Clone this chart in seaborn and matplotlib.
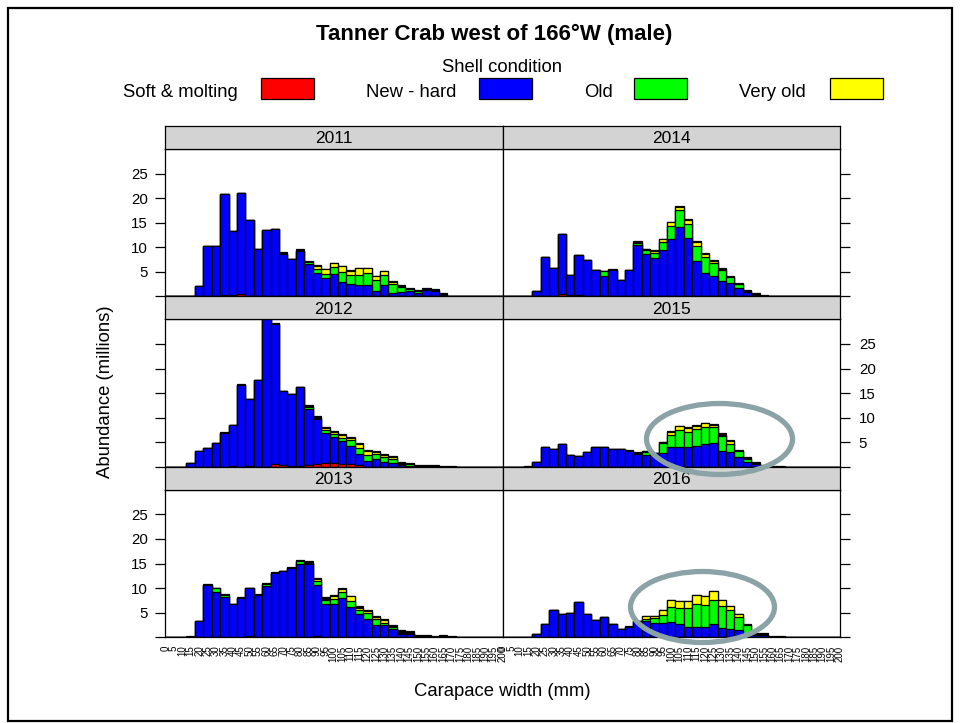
import numpy as np
import pandas as pd
import matplotlib
matplotlib.use("Agg")
import matplotlib.pyplot as plt
import seaborn as sns
from matplotlib.patches import Ellipse, Rectangle

# ---------------- data ----------------
widths = [str(v) for v in range(0, 205, 5)]          # 41 carapace-width bins
shell_labels = ["Soft & molting", "New - hard", "Old", "Very old"]
shell_colors = ["#FF0000", "#0000FF", "#00FF00", "#FFFF00"]
other_color = "#000000"

def pad(vals):
    return list(vals) + [0] * (len(widths) - len(vals))

soft_2011 = pad([0]*7 + [0.2, 0.2, 0.4])
new_2011 = pad([0, 0, 0, 0, 2.2, 10.2, 10.2, 20.6, 13.1, 20.6, 15.5, 9.7, 13.6, 13.8, 8.7, 7.6, 9.2, 6.6, 4.8,
                3.8, 4.5, 3.0, 2.5, 2.3, 2.3, 1.2, 2.3, 0.6, 0.8, 1.0, 0.7, 1.4, 1.0, 0.3])
old_2011 = pad([0]*17 + [0.3, 0.7, 0.8, 1.5, 1.9, 1.8, 2.1, 2.4, 2.2, 2.1, 1.9, 1.2, 0.5, 0.3])
vold_2011 = pad([0]*18 + [0.7, 0.9, 0.7, 1.2, 0.9, 1.4, 1.1, 0.8, 0.7, 0.5])
other_2011 = pad([0, 0, 0, 0.1, 0, 0, 0, 0, 0, 0, 0, 0, 0, 0, 0.3, 0, 0.5, 0.4, 0.2, 0, 0.1, 0, 0.1, 0, 0, 0, 0,
                  0.1, 0.3, 0.2, 0.3, 0.4, 0.5, 0.4, 0.1, 0.1])

soft_2014 = pad([0]*7 + [0.4, 0.2, 0.3])
new_2014 = pad([0, 0, 0, 0, 1.2, 8.1, 5.8, 12.4, 4.2, 8.2, 7.5, 5.4, 4.2, 5.3, 3.3, 5.3, 10.5, 8.7, 7.9, 9.4,
                11.6, 14.2, 11.8, 7.3, 4.7, 4.2, 3.2, 2.7, 1.8, 0.9, 0.3])
old_2014 = pad([0]*12 + [1.0, 0, 0, 0, 0.3, 0.7, 0.9, 1.7, 2.7, 3.4, 2.9, 3.0, 3.4, 2.5, 2.1, 1.2, 0.8, 0.2])
vold_2014 = pad([0]*17 + [0.2, 0.4, 0.5, 0.8, 0.6, 0.8, 0.7, 0.6, 0.6, 0.2])
other_2014 = pad([0]*13 + [0.2, 0, 0.1, 0.5, 0.1, 0.2, 0, 0.1, 0.1, 0.2, 0.2, 0.2, 0.1, 0.3, 0.3, 0.1, 0.3, 0.4,
                           0.3, 0.1, 0.1])

soft_2012 = pad([0]*8 + [0.2, 0, 0.2, 0, 0, 0.6, 0.4, 0.2, 0.2, 0.4, 0.6, 0.8, 0.7, 0.6, 0.6, 0.3])
new_2012 = pad([0, 0, 0, 0.75, 3.3, 3.9, 4.8, 6.9, 8.3, 16.7, 13.5, 17.6, 31.0, 28.4, 15.0, 14.6, 16.1, 11.4,
                9.1, 6.0, 5.3, 4.6, 3.7, 2.4, 1.2, 1.6, 1.0, 0.8, 0.3, 0.2])
old_2012 = pad([0]*17 + [0.3, 0.3, 0.6, 0.6, 0.7, 1.1, 1.2, 1.3, 1.0, 1.0, 0.7, 0.3, 0.3])
vold_2012 = pad([0]*19 + [0.4, 0.5, 0.5, 0.4, 0.7, 0.7, 0.5, 0.5, 0.5])
other_2012 = pad([0]*7 + [0.2, 0, 0.2, 0, 0, 0, 0.3, 0, 0, 0, 0.5, 0.3, 0.2, 0.2, 0.2, 0.2, 0.2, 0.3, 0.2, 0.1,
                          0.2, 0.3, 0.2, 0.3, 0.3, 0.3, 0.1, 0.1])

soft_2015 = pad([])
new_2015 = pad([0, 0, 0, 0, 0.9, 4.1, 3.6, 4.6, 2.4, 2.2, 3.0, 4.1, 4.1, 3.6, 3.6, 3.3, 2.7, 2.5, 2.9, 2.9, 4.0,
                4.0, 4.0, 4.2, 4.6, 4.8, 3.3, 3.1, 2.0, 1.0, 0.5, 0.1])
old_2015 = pad([0]*17 + [0.5, 0, 1.9, 2.4, 3.4, 3.0, 3.5, 3.5, 3.3, 2.9, 1.6, 1.2, 0.6])
vold_2015 = pad([0]*17 + [0.2, 0, 0.3, 0.7, 1.0, 0.9, 0.7, 0.8, 0.5, 0.2, 0.5])
other_2015 = pad([0, 0, 0, 0.1] + [0]*11 + [0.2, 0.4, 0.1, 0, 0, 0.2, 0, 0.1, 0.1, 0.1, 0.1, 0.4, 0.3, 0.2, 0.3,
                                            0.5, 0.2, 0.1, 0.1])

soft_2013 = pad([0]*10 + [0.2] + [0]*7 + [0.2])
new_2013 = pad([0, 0, 0, 0, 3.3, 10.6, 9.2, 8.2, 6.7, 8.0, 9.8, 8.6, 10.5, 13.1, 13.5, 14.1, 15.0, 14.8, 10.5,
                6.8, 6.7, 8.0, 6.2, 4.7, 3.8, 2.5, 2.4, 1.6, 0.7, 0.6, 0, 0.2, 0, 0.3])
old_2013 = pad([0]*6 + [0.8, 0.4, 0, 0, 0, 0, 0.3, 0, 0, 0, 0.5, 0.4, 0.7, 0.7, 1.1, 1.3, 1.1, 0.9, 1.1, 1.2,
                        0.5, 0.5, 0.2, 0.3])
vold_2013 = pad([0]*18 + [0.4, 0.3, 0.5, 0.6, 1.0, 0.4, 0.5, 0.5, 0.5, 0, 0.2])
other_2013 = pad([0, 0, 0.1, 0.3, 0, 0.2, 0.1, 0.2, 0, 0.2, 0, 0.2, 0.2, 0.2, 0, 0.2, 0.3, 0.3, 0.2, 0.3, 0.2,
                  0.2, 0.1, 0.3, 0.2, 0.1, 0.3, 0.3, 0.3, 0.3, 0.5, 0.2, 0.2, 0.2, 0.2, 0.1])

soft_2016 = pad([])
new_2016 = pad([0, 0, 0, 0, 0.6, 2.7, 5.6, 4.7, 4.9, 7.1, 4.7, 3.5, 4.1, 2.6, 1.6, 2.0, 3.3, 3.2, 2.9, 2.9, 3.1,
                2.7, 2.1, 2.1, 2.0, 2.7, 1.9, 1.6, 1.4, 0.7, 0.5, 0.5])
old_2016 = pad([0]*17 + [0.6, 1.0, 1.7, 3.0, 3.3, 3.8, 4.7, 4.6, 4.8, 4.5, 4.0, 2.8, 1.8, 0.2])
vold_2016 = pad([0]*17 + [0.5, 0.5, 1.0, 1.4, 1.4, 1.4, 1.7, 1.7, 2.0, 1.1, 0.7, 0.6])
other_2016 = pad([0, 0, 0.1, 0.1] + [0]*11 + [0.3, 0, 0.1] + [0]*8 + [0.1, 0, 0, 0.2, 0.1, 0.3, 0.3, 0.2, 0, 0.1])

years = {
    2011: (soft_2011, new_2011, old_2011, vold_2011, other_2011),
    2012: (soft_2012, new_2012, old_2012, vold_2012, other_2012),
    2013: (soft_2013, new_2013, old_2013, vold_2013, other_2013),
    2014: (soft_2014, new_2014, old_2014, vold_2014, other_2014),
    2015: (soft_2015, new_2015, old_2015, vold_2015, other_2015),
    2016: (soft_2016, new_2016, old_2016, vold_2016, other_2016),
}
# (year, row, col)
layout = [(2011, 0, 0), (2014, 0, 1), (2012, 1, 0), (2015, 1, 1), (2013, 2, 0), (2016, 2, 1)]

# ---------------- figure ----------------
sns.set_theme(style="white")
plt.rcParams["font.family"] = ["Liberation Sans", "DejaVu Sans"]
plt.rcParams["text.color"] = "black"
plt.rcParams["axes.labelcolor"] = "black"
plt.rcParams["xtick.color"] = "black"
plt.rcParams["ytick.color"] = "black"
plt.rcParams["xtick.labelcolor"] = "black"
plt.rcParams["ytick.labelcolor"] = "black"

W, H = 960, 723
fig = plt.figure(figsize=(W / 100, H / 100), dpi=100)
fig.patch.set_facecolor("white")


def box(x0, y0, x1, y1):
    return [x0 / W, 1 - y1 / H, (x1 - x0) / W, (y1 - y0) / H]


col_x = [(165, 502.5), (502.5, 840)]
row_top = 126.0
row_h = 170.4
strip_h = 23.0

for year, r, c in layout:
    xl, xr = col_x[c]
    stop = row_top + r * row_h
    ptop = stop + strip_h
    pbot = stop + row_h
    ax = fig.add_axes(box(xl, ptop, xr, pbot))
    soft, new, old, vold, other = [np.array(v, dtype=float) for v in years[year]]
    cum = [soft, soft + new, soft + new + old, soft + new + old + vold, soft + new + old + vold + other]
    df = pd.DataFrame({"width": widths, "c1": cum[0], "c2": cum[1], "c3": cum[2], "c4": cum[3], "c5": cum[4]})
    layers = [("c5", other_color), ("c4", shell_colors[3]), ("c3", shell_colors[2]),
              ("c2", shell_colors[1]), ("c1", shell_colors[0])]
    for col, color in layers:
        sns.barplot(data=df, x="width", y=col, order=widths, color=color, saturation=1,
                    width=1.0, edgecolor="black", linewidth=0.9, errorbar=None, ax=ax)
    ax.set_xlim(-0.05, 40.05)
    ax.set_ylim(0, 30)
    ax.set_xlabel("")
    ax.set_ylabel("")
    ax.set_facecolor("white")
    for s in ax.spines.values():
        s.set_visible(True)
        s.set_color("black")
        s.set_linewidth(0.9)
    ax.set_yticks([0, 5, 10, 15, 20, 25])
    ax.set_yticklabels(["", "5", "10", "15", "20", "25"])
    if c == 0:
        ax.tick_params(axis="y", left=True, right=False, labelleft=(r != 1), labelright=False,
                       direction="out", length=7.5, width=0.9, color="black", labelsize=10.8, pad=5)
    else:
        ax.tick_params(axis="y", left=False, right=True, labelleft=False, labelright=(r == 1),
                       direction="out", length=7.5, width=0.9, color="black", labelsize=10.8, pad=6)
    ax.set_xticks(range(len(widths)))
    if r == 2:
        ax.set_xticklabels(widths, rotation=90)
        ax.tick_params(axis="x", bottom=True, length=0, labelsize=7, pad=6, labelbottom=True)
    else:
        ax.tick_params(axis="x", bottom=False, labelbottom=False, length=0)

    sax = fig.add_axes(box(xl, stop, xr, ptop))
    sax.set_facecolor("#D3D3D3")
    sax.set_xticks([])
    sax.set_yticks([])
    for s in sax.spines.values():
        s.set_visible(True)
        s.set_color("black")
        s.set_linewidth(0.9)
    sax.text(0.5, 0.45, str(year), ha="center", va="center", fontsize=12.5, color="black",
             transform=sax.transAxes)

# ---------------- overlay: titles, legend, annotations ----------------
ov = fig.add_axes([0, 0, 1, 1])
ov.set_xlim(0, W)
ov.set_ylim(H, 0)
ov.axis("off")
ov.patch.set_alpha(0)

ov.add_patch(Rectangle((8, 8), 944, 713, fill=False, ec="black", lw=1.6))
ov.text(494.5, 40, "Tanner Crab west of 166°W (male)", ha="center", va="baseline",
        fontsize=16, fontweight="bold", color="black")
ov.text(502.5, 71.5, "Shell condition", ha="center", va="baseline", fontsize=13.3, color="black")

legend_text_x = [123, 366, 584, 739]
legend_box_x = [261, 479, 634, 830]
for lab, col, tx, bx in zip(shell_labels, shell_colors, legend_text_x, legend_box_x):
    ov.text(tx, 97, lab, ha="left", va="baseline", fontsize=13.3, color="black")
    ov.add_patch(Rectangle((bx, 78), 53, 20.5, fc=col, ec="black", lw=0.9))

ov.text(105, 392, "Abundance (millions)", rotation=90, ha="center", va="center", fontsize=13.3,
        color="black")
ov.text(502.5, 692, "Carapace width (mm)", ha="center", va="center", fontsize=13.3, color="black")

ov.add_patch(Ellipse((719.5, 439), 146, 71, fill=False, ec="#8BA3A6", lw=3.8))
ov.add_patch(Ellipse((702.5, 607), 144, 71, fill=False, ec="#8BA3A6", lw=3.8))

fig.savefig("out.png", dpi=100, facecolor="white")
